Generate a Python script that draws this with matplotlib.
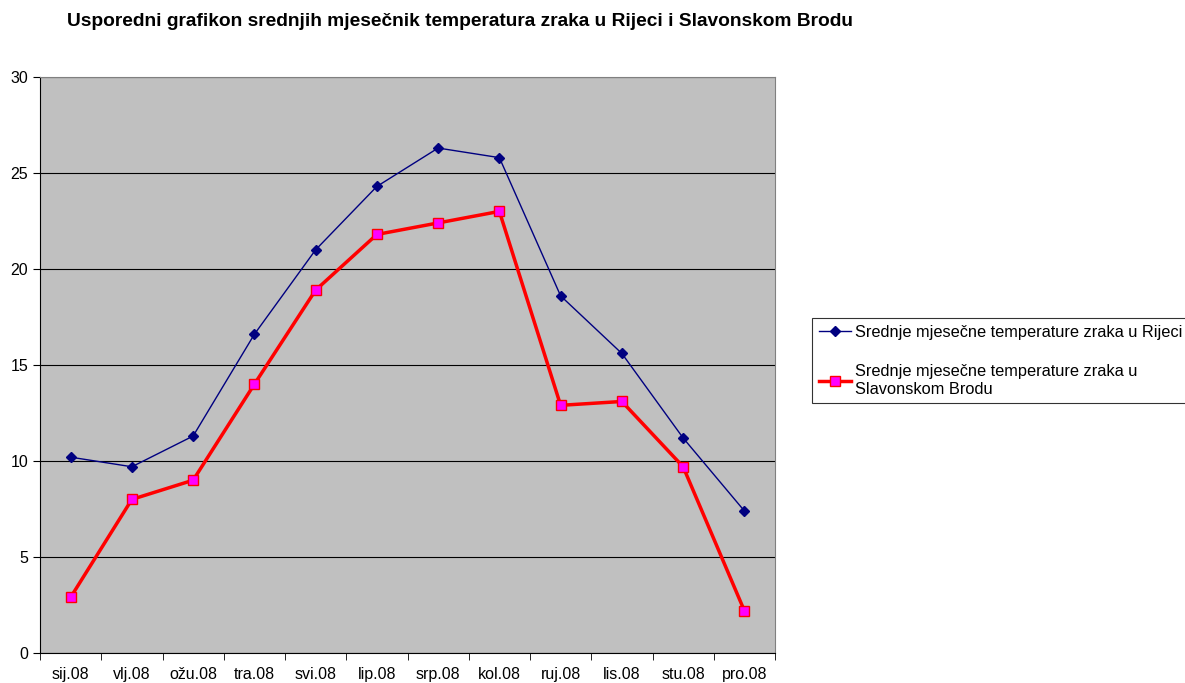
import matplotlib
matplotlib.use("Agg")
import matplotlib.pyplot as plt
import numpy as np

months = ["sij.08", "vlj.08", "ožu.08", "tra.08", "svi.08", "lip.08",
          "srp.08", "kol.08", "ruj.08", "lis.08", "stu.08", "pro.08"]
rijeka = [10.2, 9.7, 11.3, 16.6, 21.0, 24.3, 26.3, 25.8, 18.6, 15.6, 11.2, 7.4]
brod = [2.9, 8.0, 9.0, 14.0, 18.9, 21.8, 22.4, 23.0, 12.9, 13.1, 9.7, 2.2]

plt.rcParams["font.family"] = ["Liberation Sans", "DejaVu Sans"]

fig = plt.figure(figsize=(11.85, 6.83), dpi=100)
ax = fig.add_axes([40 / 1185, 1 - 653 / 683, 735 / 1185, 576 / 683])
ax.set_facecolor("#c0c0c0")

x = np.arange(len(months))
ax.plot(x, rijeka, color="#000080", lw=1.0, marker="D", ms=5,
        mfc="#000080", mec="#000080",
        label="Srednje mjesečne temperature zraka u Rijeci")
ax.plot(x, brod, color="#ff0000", lw=2.5, marker="s", ms=7,
        mfc="#ff00ff", mec="#ff0000", mew=1.0,
        label="Srednje mjesečne temperature zraka u\nSlavonskom Brodu")

ax.set_xlim(-0.5, len(months) - 0.5)
ax.set_ylim(0, 30)
ax.set_yticks(range(0, 31, 5))
ax.set_xticks(x)
ax.set_xticklabels(months, fontsize=11.5)
ax.set_xticks(np.arange(-0.5, len(months), 1), minor=True)
ax.tick_params(axis="x", which="major", length=0, pad=10)
ax.tick_params(axis="x", which="minor", length=5, direction="out", color="black")
ax.tick_params(axis="y", length=5, direction="out", labelsize=11.5)
ax.yaxis.grid(True, color="black", lw=0.8)
ax.set_axisbelow(True)
for s in ax.spines.values():
    s.set_color("#808080")
ax.spines["left"].set_color("black")
ax.spines["bottom"].set_color("black")

fig.text(67 / 1185, 1 - 21 / 683, "Usporedni grafikon srednjih mjesečnik temperatura zraka u Rijeci i Slavonskom Brodu",
         fontsize=13.8, fontweight="bold", va="center", ha="left")

leg = ax.legend(loc="upper left", bbox_to_anchor=(812 / 1185, 1 - 318 / 683),
                bbox_transform=fig.transFigure, fontsize=11.8, frameon=True,
                fancybox=False, edgecolor="black", borderpad=0.4,
                labelspacing=1.5, handlelength=2.0, handletextpad=0.2,
                borderaxespad=0)
leg.get_frame().set_linewidth(0.8)

fig.savefig("out.png", dpi=100)
